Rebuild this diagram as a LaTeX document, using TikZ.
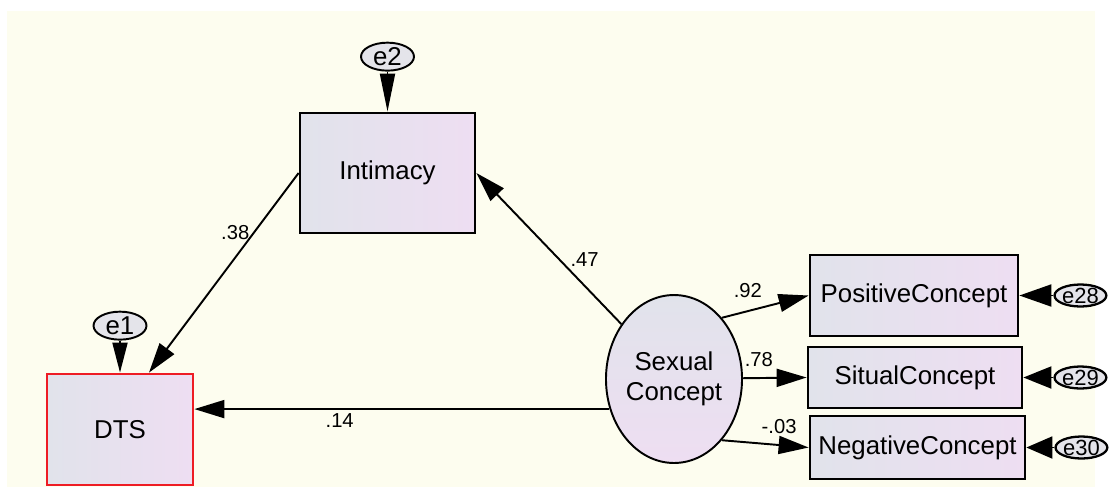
\documentclass[tikz,border=0pt]{standalone}
\usepackage{fontspec}
\setmainfont{Liberation Sans}
\usepackage{tikz}
\usetikzlibrary{arrows.meta,positioning,shapes.geometric}

\definecolor{paper}{RGB}{253,253,239}
\definecolor{boxleft}{RGB}{225,227,235}
\definecolor{boxright}{RGB}{238,222,242}
\definecolor{errfill}{RGB}{228,228,234}
\definecolor{dtsred}{RGB}{238,28,36}

\begin{document}
\begin{tikzpicture}[x=0.02cm,y=-0.02cm,->,>={Triangle[length=0.6cm,width=0.36cm]},line width=1.1pt]
%\tikzset{every node/.style={font=\small}}
\tikzset{every node/.append style={font=\fontsize{14.7}{17}\selectfont}}
\tikzset{obs/.style={rectangle,draw,line width=1.6pt,left color=boxleft,right color=boxright,inner sep=0pt},
	latent/.style={ellipse,draw,line width=1.1pt,top color=boxleft,bottom color=boxright,inner sep=0pt,align=center},
	err/.style={ellipse,draw,line width=1.1pt,fill=errfill,inner sep=0pt,minimum width=1.06cm,minimum height=0.56cm},
	errs/.style={err,line width=1.3pt,minimum width=0.8cm,minimum height=0.44cm,font=\fontsize{12.5}{14}\selectfont},
	coef/.style={font=\fontsize{11.5}{13}\selectfont,inner sep=2pt}}

\fill[paper,-] (7,11) rectangle (1095,487);
\useasboundingbox (0,0) rectangle (1119,487);

\node[obs,minimum width=3.5cm,minimum height=2.4cm]	(int)	at (387.5,173)	{Intimacy};
\node[obs,draw=dtsred,minimum width=2.92cm,minimum height=2.22cm]	(dts)	at (120,429.5)	{DTS};
\node[latent,minimum width=2.46cm,minimum height=3.36cm]	(sc)	at (674,379)	{Sexual\\Concept};
\node[obs,minimum width=4.16cm,minimum height=1.62cm]	(pos)	at (914,295.5)	{PositiveConcept};
\node[obs,minimum width=4.28cm,minimum height=1.22cm]	(sit)	at (915,377.5)	{SitualConcept};
\node[obs,minimum width=4.3cm,minimum height=1.26cm]	(neg)	at (917.5,447.5)	{NegativeConcept};

\node[err]	(e2)	[above=0.8cm of int]	{e2};
\node[err]	(e1)	[above=0.64cm of dts]	{e1};
\node[errs]	(e28)	[right=0.68cm of pos]	{e28};
\node[errs]	(e29)	[right=0.6cm of sit]	{e29};
\node[errs]	(e30)	[right=0.56cm of neg]	{e30};

\path	(int.west)	edge	node[coef,pos=0.3,left]	{.38}	(dts.63)

	(sc)	edge	node[coef,pos=0.43,right=4pt]	{.47}	(int.east)
	(sc.205)	edge	node[coef,pos=0.65,below]	{.14}	(sc.205 -| dts.east)

	(sc.52)	edge	node[coef,pos=0.3,above=5pt]	{.92}	(pos.west)
	(sc)	edge	node[coef,pos=0.25,above=4pt]	{.78}	(sit.west)
	(sc.-52)	edge	node[coef,pos=0.66,above=4pt]	{-.03}	(neg.west)

	(e2)	edge	[-{Triangle[length=0.76cm,width=0.3cm]}]	(int)
	(e1)	edge	[-{Triangle[length=0.6cm,width=0.3cm]}]	(dts)
	(e28)	edge	[-{Triangle[length=0.64cm,width=0.44cm]}]	(pos)
	(e29)	edge	[-{Triangle[length=0.56cm,width=0.44cm]}]	(sit)
	(e30)	edge	[-{Triangle[length=0.52cm,width=0.44cm]}]	(neg);
\end{tikzpicture}
\end{document}
